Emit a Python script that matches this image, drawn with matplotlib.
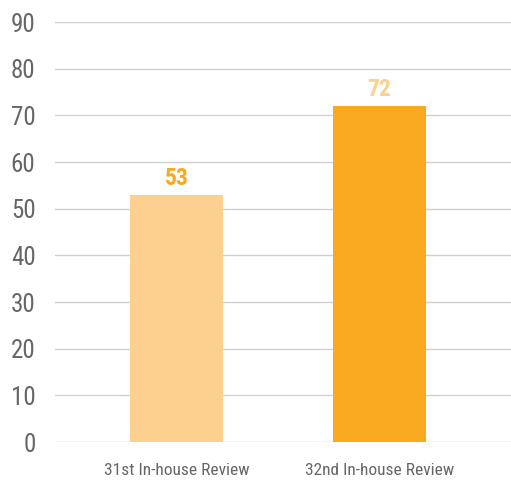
import matplotlib
matplotlib.use("Agg")
import matplotlib.pyplot as plt
from matplotlib import font_manager as fm

names = {f.name for f in fm.fontManager.ttflist}
FONT = "Roboto"
for cand in ["Roboto Condensed", "Liberation Sans Narrow", "DejaVu Sans Condensed", "Open Sans Condensed"]:
    if cand in names:
        FONT = cand
        break
plt.rcParams["font.family"] = [FONT, "DejaVu Sans"]

categories = ["31st In-house Review", "32nd In-house Review"]
values = [53, 72]
bar_colors = ["#FCD08F", "#F9A91F"]
label_colors = ["#F9A91F", "#FCD08F"]
yticks = list(range(0, 91, 10))

fig = plt.figure(figsize=(5.11, 4.80), dpi=100)
ax = fig.add_axes([55 / 511, 1 - 442 / 480, 456 / 511, 420 / 480])
x = range(len(categories))
ax.bar(x, values, width=0.46, color=bar_colors, zorder=2)
for i, v in enumerate(values):
    ax.text(i, v + 1.0, str(v), ha="center", va="bottom", fontsize=17,
            fontweight="bold", color=label_colors[i])

ax.set_ylim(0, 90)
ax.set_xlim(-0.6, 1.65)
ax.set_yticks(yticks)
ax.yaxis.grid(True, color="#d0d0d0", linewidth=1, zorder=0)
ax.set_xticks(list(x))
ax.set_xticklabels(categories)
ax.tick_params(axis="y", length=0, labelsize=18, labelcolor="#666666", pad=14)
ax.tick_params(axis="x", length=0, labelsize=12.5, labelcolor="#666666", pad=15)
for s in ax.spines.values():
    s.set_visible(False)

fig.savefig("out.png", dpi=100)
